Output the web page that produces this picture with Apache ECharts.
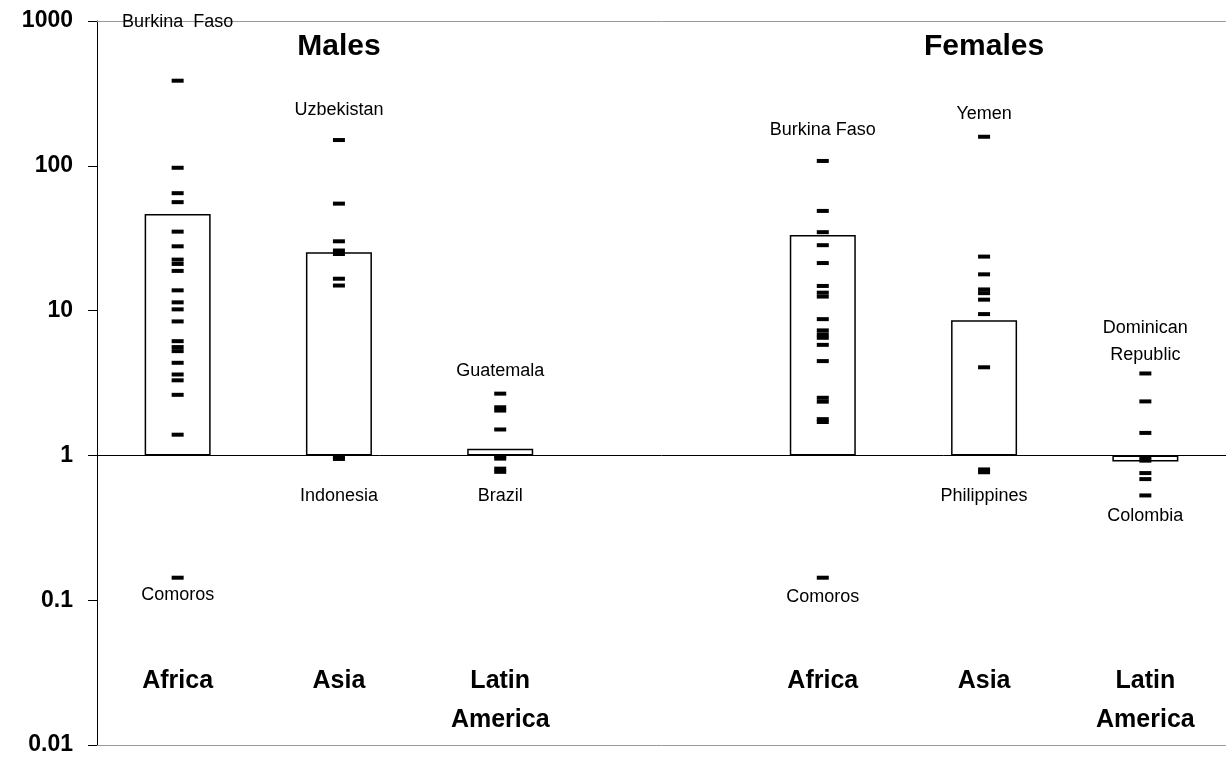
<!DOCTYPE html>
<html>
<head>
<meta charset="utf-8">
<script src="https://cdn.jsdelivr.net/npm/echarts@6/dist/echarts.min.js"></script>
<style>
html,body{margin:0;padding:0;background:#fff;}
#chart{width:1226px;height:759px;}
</style>
</head>
<body>
<div id="chart"></div>
<script>
// Categories (one empty slot between the male and female groups)
const categories = ['Africa', 'Asia', 'Latin\nAmerica', '', 'Africa', 'Asia', 'Latin\nAmerica'];
const yTickLabels = {0.01: '0.01', 0.1: '0.1', 1: '1', 10: '10', 100: '100', 1000: '1000'};

// Group means (bars)
const meanValues = [46.5, 25.3, 1.11, null, 33.3, 8.59, 0.909];

// Individual country values (dashes)
const maleAfrica = [387, 96.9, 64.7, 56.1, 35.1, 27.8, 22.5, 21.0, 18.8, 13.8, 11.4, 10.2, 8.42, 6.15, 5.6, 5.25, 4.36, 3.62, 3.30, 2.62, 1.39, 0.143];
const maleAsia = [150.6, 54.8, 30.1, 26.0, 24.6, 16.6, 14.9, 0.97, 0.945];
const maleLatAm = [2.67, 2.15, 2.04, 1.51, 0.985, 0.95, 0.81, 0.77];
const femaleAfrica = [108, 48.8, 34.8, 28.3, 21.3, 14.8, 13.3, 12.5, 8.73, 7.3, 6.85, 6.49, 5.80, 4.48, 2.5, 2.35, 1.78, 1.70, 0.143];
const femaleAsia = [158.7, 23.6, 17.8, 14.0, 13.2, 11.9, 9.46, 4.06, 0.80, 0.765];
const femaleLatAm = [3.68, 2.36, 1.43, 0.97, 0.92, 0.755, 0.686, 0.529];
const groups = [maleAfrica, maleAsia, maleLatAm, null, femaleAfrica, femaleAsia, femaleLatAm];

// Country annotations: [text, category index, value where label sits]
const countryLabels = [
  ['Burkina  Faso', 0, 990],
  ['Comoros', 0, 0.109],
  ['Uzbekistan', 1, 244],
  ['Indonesia', 1, 0.52],
  ['Guatemala', 2, 3.81],
  ['Brazil', 2, 0.52],
  ['Burkina Faso', 4, 177],
  ['Comoros', 4, 0.106],
  ['Yemen', 5, 229],
  ['Philippines', 5, 0.52],
  ['Dominican\nRepublic', 6, 6.15],
  ['Colombia', 6, 0.384]
];
const panelTitles = [['Males', 1], ['Females', 5]];

const FONT = "'Liberation Sans', Arial, Helvetica, sans-serif";

const dashData = [];
groups.forEach((g, i) => { if (g) g.forEach(v => dashData.push([i, v])); });

const chart = echarts.init(document.getElementById('chart'));
const option = {
  animation: false,
  backgroundColor: '#fff',
  textStyle: {fontFamily: FONT},
  grid: {left: 97, right: 0, top: 21, bottom: 14, containLabel: false},
  xAxis: [{
    type: 'category',
    data: categories,
    position: 'bottom',
    boundaryGap: true,
    axisLine: {show: true, lineStyle: {color: '#9a9a9a', width: 1}},
    axisTick: {show: false},
    axisLabel: {
      inside: true, margin: 83, verticalAlign: 'top', interval: 0,
      fontFamily: FONT, fontWeight: 'bold', fontSize: 25, lineHeight: 39, color: '#000'
    }
  }, {
    type: 'category',
    data: categories,
    position: 'top',
    axisLine: {show: true, lineStyle: {color: '#9a9a9a', width: 1}},
    axisTick: {show: false},
    axisLabel: {show: false}
  }],
  yAxis: {
    type: 'log',
    logBase: 10,
    min: 0.01,
    max: 1000,
    axisLine: {show: true, lineStyle: {color: '#000', width: 1}},
    axisTick: {show: true, inside: false, length: 9, lineStyle: {color: '#000'}},
    splitLine: {show: false},
    axisLabel: {
      margin: 24, fontFamily: FONT, fontWeight: 'bold', fontSize: 23, color: '#000',
      formatter: v => {
        const key = Object.keys(yTickLabels).find(k => Math.abs(Math.log10(+k) - Math.log10(v)) < 1e-6);
        return key ? yTickLabels[key] : '';
      }
    }
  },
  series: [{
    type: 'bar',
    data: meanValues.map(v => v == null ? '-' : v),
    barWidth: 66,
    itemStyle: {color: '#fff', borderColor: '#000', borderWidth: 1.5},
    z: 2,
    silent: true,
    markLine: {
      silent: true,
      symbol: ['none', 'none'],
      label: {show: false},
      lineStyle: {color: '#000', width: 1, type: 'solid'},
      data: [{yAxis: 1}]
    }
  }, {
    type: 'scatter',
    data: dashData,
    symbol: 'rect',
    symbolSize: [12, 4],
    itemStyle: {color: '#000', opacity: 1},
    z: 3,
    silent: true
  }, {
    type: 'scatter',
    data: countryLabels.map(d => ({name: d[0], value: [d[1], d[2]]})),
    symbolSize: 0,
    silent: true,
    itemStyle: {color: '#000', opacity: 1},
    label: {
      show: true, position: [0, 0], align: 'center', verticalAlign: 'middle',
      formatter: p => p.name, textBorderWidth: 0,
      fontFamily: FONT, fontSize: 18, lineHeight: 27, color: '#000'
    },
    z: 4
  }, {
    type: 'scatter',
    data: panelTitles.map(d => ({name: d[0], value: [d[1], 668]})),
    symbolSize: 0,
    silent: true,
    itemStyle: {color: '#000', opacity: 1},
    label: {
      show: true, position: [0, 0], align: 'center', verticalAlign: 'middle',
      formatter: p => p.name, textBorderWidth: 0,
      fontFamily: FONT, fontSize: 30, fontWeight: 'bold', color: '#000'
    },
    z: 4
  }]
};
chart.setOption(option);
</script>
</body>
</html>
